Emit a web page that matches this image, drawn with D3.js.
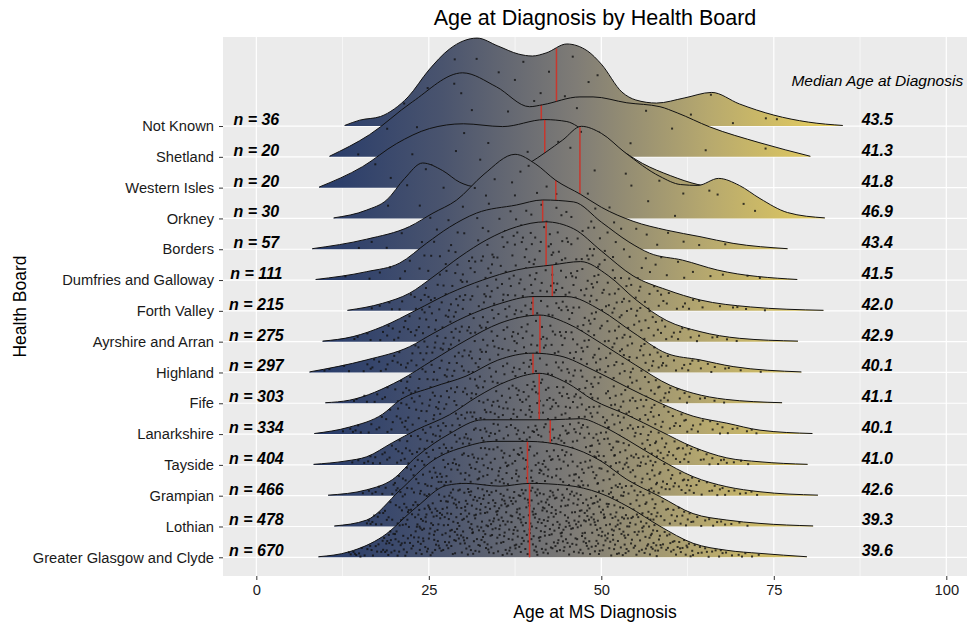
<!DOCTYPE html>
<html>
<head>
<meta charset="utf-8">
<script src="https://cdn.jsdelivr.net/npm/d3@7"></script>
<style>
    body { margin: 0; background: #fff; }
    text { font-family: "Liberation Sans", Arial, sans-serif; }
</style>
</head>
<body>
<div id="chart"></div>
<script>
// Health boards, bottom row first
const boards = ["Greater Glasgow and Clyde", "Lothian", "Grampian", "Tayside", "Lanarkshire", "Fife",
    "Highland", "Ayrshire and Arran", "Forth Valley", "Dumfries and Galloway", "Borders", "Orkney",
    "Western Isles", "Shetland", "Not Known"];
const counts = [670, 478, 466, 404, 334, 303, 297, 275, 215, 111, 57, 30, 20, 20, 36];
const medians = [39.6, 39.3, 42.6, 41.0, 40.1, 41.1, 40.1, 42.9, 42.0, 41.5, 43.4, 46.9, 41.8, 41.3, 43.5];

// density estimate of age at diagnosis (% per year), read from the ridges
const densityAges = [
    [9, 13.5, 18.3, 23.2, 27.6, 30.4, 35.3, 39.6, 45, 49.8, 54, 58.5, 63.3, 68.2, 73, 79.8],
    [11.3, 16, 20.8, 25.6, 30.4, 34.3, 39.3, 45, 49.8, 53.7, 58.5, 63.3, 68.2, 73, 80.7],
    [10.4, 16, 19.7, 23.2, 28, 32.8, 37.5, 42.6, 47, 50, 54, 58.5, 63.3, 68.2, 73, 81.4],
    [8.3, 13, 16, 19.7, 23.2, 28, 32, 36.5, 41, 45, 48.8, 53.7, 58.5, 63.3, 68.2, 73, 79.9],
    [8.4, 13.5, 18.3, 20.8, 25.6, 30.4, 35, 40.1, 44, 48.8, 53.7, 58.5, 63.3, 68.2, 73, 80.6],
    [10, 13.5, 20.8, 25.6, 30.4, 35.3, 41.1, 45, 50, 55, 60, 63.3, 68, 76.2],
    [7.7, 16, 22.2, 25.6, 30.4, 35.3, 40.1, 45, 50, 54.6, 59.5, 64.3, 69.1, 79],
    [9.6, 14, 18.3, 23.2, 28, 32.8, 37.7, 42.9, 47, 51, 55, 59.5, 64.3, 70, 78.5],
    [13.2, 18.3, 22.2, 25.6, 29.5, 33.4, 37.7, 41.9, 46, 50, 54.6, 59.5, 64.3, 71.6, 82.2],
    [8.6, 16, 20.8, 24.7, 28, 31.9, 37.7, 41.5, 46, 50, 54, 57, 61.8, 66.8, 78.4],
    [8.1, 16, 22.2, 25.6, 29, 33, 37.5, 40.5, 43.4, 47, 50, 54.6, 59.5, 64.3, 69.1, 77],
    [11.2, 16, 18.9, 21.5, 24.1, 27, 29.5, 31.9, 35, 39.6, 44.4, 47.1, 50, 53.4, 58.5, 61.5, 64, 67, 70, 73, 77, 82.4],
    [9.1, 15.4, 20.3, 25.1, 30, 35.7, 41.8, 45, 48, 52.7, 56, 60, 64, 66],
    [10.6, 16.4, 22.6, 29.9, 34.8, 39.6, 41.5, 46.9, 48.8, 53.7, 58.5, 61, 65.7, 73, 80.3],
    [12.8, 15, 18, 20, 22, 25, 28, 30, 32, 35, 38, 40, 42, 45, 48, 50, 53, 55, 58, 62, 66, 70, 75, 80, 85]
];
const densityPct = [
    [0.02, 0.20, 0.74, 1.79, 2.57, 2.64, 2.54, 2.64, 2.57, 2.29, 1.79, 1.11, 0.50, 0.25, 0.14, 0.02],
    [0.02, 0.23, 1.29, 2.36, 2.86, 3.04, 3.04, 2.86, 2.36, 1.68, 1.07, 0.46, 0.23, 0.11, 0.02],
    [0.02, 0.21, 0.57, 1.39, 2.21, 2.71, 2.71, 2.71, 2.75, 2.50, 1.96, 1.29, 0.68, 0.32, 0.14, 0.02],
    [0.02, 0.14, 0.29, 0.79, 1.25, 1.79, 2.43, 3.00, 3.27, 2.93, 2.32, 1.79, 1.21, 0.64, 0.25, 0.11, 0.02],
    [0.02, 0.25, 0.71, 1.21, 1.68, 2.07, 2.64, 2.89, 2.79, 2.29, 1.68, 1.11, 0.64, 0.39, 0.14, 0.02],
    [0.02, 0.11, 0.82, 1.54, 2.25, 2.86, 3.15, 2.86, 2.14, 1.36, 0.64, 0.36, 0.14, 0.02],
    [0.02, 0.45, 0.92, 1.39, 2.00, 2.46, 2.71, 2.71, 2.21, 1.43, 0.68, 0.45, 0.21, 0.02],
    [0.02, 0.18, 0.54, 1.13, 1.73, 2.20, 2.56, 2.74, 2.86, 2.36, 1.50, 0.75, 0.36, 0.12, 0.02],
    [0.02, 0.27, 0.63, 1.21, 1.93, 2.54, 3.00, 3.18, 2.93, 2.14, 1.25, 0.75, 0.39, 0.14, 0.02],
    [0.02, 0.30, 0.61, 1.32, 1.89, 2.39, 2.68, 2.86, 2.79, 2.07, 1.36, 0.96, 0.71, 0.36, 0.02],
    [0.02, 0.36, 0.81, 1.29, 1.75, 2.68, 3.39, 3.04, 2.46, 1.96, 1.50, 1.00, 0.68, 0.45, 0.21, 0.02],
    [0.02, 0.30, 0.66, 1.43, 1.98, 1.71, 1.29, 1.13, 1.36, 1.98, 2.80, 3.29, 3.04, 2.36, 1.50, 1.21, 1.18, 1.43, 1.18, 0.71, 0.21, 0.02],
    [0.02, 0.75, 1.57, 2.11, 2.28, 2.18, 2.43, 2.36, 1.96, 1.36, 0.86, 0.43, 0.11, 0.02],
    [0.02, 0.79, 1.96, 3.00, 2.50, 1.79, 1.86, 2.14, 2.14, 1.93, 1.79, 1.57, 1.07, 0.50, 0.02],
    [0.02, 0.21, 0.34, 0.61, 1.04, 2.00, 2.75, 3.04, 3.14, 2.86, 2.57, 2.50, 2.61, 2.93, 2.68, 2.21, 1.21, 0.93, 0.82, 1.00, 1.20, 0.79, 0.39, 0.14, 0.02]
];
const xTicks = [0, 25, 50, 75, 100];
const xMinor = [12.5, 37.5, 62.5, 87.5];

const width = 976, height = 623;
const panel = { left: 223, right: 967, top: 37, bottom: 576 };
const ridgeScale = 0.909; // rows per % density

const svg = d3.select("#chart").append("svg")
    .attr("width", width)
    .attr("height", height);

const x = d3.scaleLinear().domain([-4.83, 103]).range([panel.left, panel.right]);
const y = d3.scaleLinear().domain([-0.607, 16.89]).range([panel.bottom, panel.top]);

// panel background + grid
svg.append("rect")
    .attr("x", panel.left).attr("y", panel.top)
    .attr("width", panel.right - panel.left).attr("height", panel.bottom - panel.top)
    .attr("fill", "#ebebeb");

svg.append("g").selectAll("line").data(xMinor).join("line")
    .attr("x1", d => x(d)).attr("x2", d => x(d))
    .attr("y1", panel.top).attr("y2", panel.bottom)
    .attr("stroke", "#fff").attr("stroke-width", 0.6);
svg.append("g").selectAll("line").data(xTicks).join("line")
    .attr("x1", d => x(d)).attr("x2", d => x(d))
    .attr("y1", panel.top).attr("y2", panel.bottom)
    .attr("stroke", "#fff").attr("stroke-width", 1.2);
svg.append("g").selectAll("line").data(boards).join("line")
    .attr("x1", panel.left).attr("x2", panel.right)
    .attr("y1", (d, i) => y(i)).attr("y2", (d, i) => y(i))
    .attr("stroke", "#fff").attr("stroke-width", 1.2);

// fill gradient along age
const allAges = densityAges.flat();
const grad = svg.append("defs").append("linearGradient")
    .attr("id", "ageFill")
    .attr("gradientUnits", "userSpaceOnUse")
    .attr("x1", x(d3.min(allAges))).attr("x2", x(d3.max(allAges)))
    .attr("y1", 0).attr("y2", 0);
[[0, "#24396a"], [0.25, "#4a546e"], [0.5, "#7f7c76"], [0.75, "#b7a96e"], [1, "#ead15c"]].forEach(s => {
    grad.append("stop").attr("offset", s[0]).attr("stop-color", s[1]);
});

function heightAt(i, age) {
    const a = densityAges[i], p = densityPct[i];
    if (age <= a[0] || age >= a[a.length - 1]) return 0;
    const j = d3.bisectRight(a, age) - 1;
    const t = (age - a[j]) / (a[j + 1] - a[j]);
    return p[j] + t * (p[j + 1] - p[j]);
}

function quantile(i, q) {
    const a = densityAges[i], p = densityPct[i];
    const cum = [0];
    for (let j = 1; j < a.length; j++) cum.push(cum[j - 1] + (p[j] + p[j - 1]) / 2 * (a[j] - a[j - 1]));
    const target = q * cum[cum.length - 1];
    let j = d3.bisectRight(cum, target) - 1;
    j = Math.min(j, a.length - 2);
    const t = (target - cum[j]) / (cum[j + 1] - cum[j]);
    return a[j] + t * (a[j + 1] - a[j]);
}

// low-discrepancy sequence for spreading the dots
function halton(k, base) {
    let f = 1, r = 0;
    while (k > 0) {
        f /= base;
        r += f * (k % base);
        k = Math.floor(k / base);
    }
    return r;
}

const ridges = svg.append("g");

// draw from the top row down so lower ridges sit in front
for (let i = boards.length - 1; i >= 0; i--) {
    const pts = densityAges[i].map((a, k) => [a, densityPct[i][k]]);
    const g = ridges.append("g");

    const area = d3.area()
        .curve(d3.curveMonotoneX)
        .x(d => x(d[0]))
        .y0(y(i))
        .y1(d => y(i + d[1] * ridgeScale));
    const line = d3.line()
        .curve(d3.curveMonotoneX)
        .x(d => x(d[0]))
        .y(d => y(i + d[1] * ridgeScale));

    g.append("path").attr("d", area(pts)).attr("fill", "url(#ageFill)");

    // observations spread inside the ridge
    const off = 7 + i * 13;
    const dots = d3.range(counts[i]).map(k => {
        const u = halton(k + off, 2);
        const v = halton(k + off, 3);
        const age = quantile(i, 0.004 + u * 0.992);
        const h = heightAt(i, age) * ridgeScale;
        return [x(age), y(i + (0.03 + 0.92 * v) * h)];
    });
    g.selectAll("rect").data(dots).join("rect")
        .attr("x", d => d[0] - 1).attr("y", d => d[1] - 1)
        .attr("width", 2).attr("height", 2)
        .attr("fill", "#111")
        .attr("fill-opacity", 0.8);

    g.append("line")
        .attr("x1", x(medians[i])).attr("x2", x(medians[i]))
        .attr("y1", y(i)).attr("y2", y(i + heightAt(i, medians[i]) * ridgeScale))
        .attr("stroke", "#c8372d").attr("stroke-width", 1.5);

    g.append("path").attr("d", line(pts))
        .attr("fill", "none").attr("stroke", "#111").attr("stroke-width", 1);
}

// n labels and median labels
svg.append("g").selectAll("text").data(counts).join("text")
    .attr("x", x(0)).attr("y", (d, i) => y(i) - 1)
    .attr("text-anchor", "middle")
    .style("font-size", "16px").style("font-weight", "bold").style("font-style", "italic")
    .text(d => "n = " + d);
svg.append("g").selectAll("text").data(medians).join("text")
    .attr("x", x(90)).attr("y", (d, i) => y(i) - 1)
    .attr("text-anchor", "middle")
    .style("font-size", "16px").style("font-weight", "bold").style("font-style", "italic")
    .text(d => d.toFixed(1));
svg.append("text")
    .attr("x", x(90)).attr("y", y(boards.length - 1 + 1.3))
    .attr("text-anchor", "middle")
    .style("font-size", "15.5px").style("font-style", "italic")
    .text("Median Age at Diagnosis");

// axes
const xAxis = svg.append("g")
    .attr("transform", "translate(0," + panel.bottom + ")")
    .call(d3.axisBottom(x).tickValues(xTicks).tickSize(4).tickPadding(5));
const yAxis = svg.append("g")
    .attr("transform", "translate(" + panel.left + ",0)")
    .call(d3.axisLeft(y).tickValues(d3.range(boards.length)).tickFormat(i => boards[i]).tickSize(4).tickPadding(5));
[xAxis, yAxis].forEach(ax => {
    ax.select(".domain").remove();
    ax.selectAll(".tick line").attr("stroke", "#333");
    ax.selectAll(".tick text").attr("fill", "#1a1a1a").style("font-size", "14.7px")
        .style("font-family", "'Liberation Sans', Arial, sans-serif");
});

svg.append("text")
    .attr("x", (panel.left + panel.right) / 2).attr("y", 25)
    .attr("text-anchor", "middle")
    .style("font-size", "21.5px")
    .text("Age at Diagnosis by Health Board");
svg.append("text")
    .attr("x", (panel.left + panel.right) / 2).attr("y", 618)
    .attr("text-anchor", "middle")
    .style("font-size", "17.5px")
    .text("Age at MS Diagnosis");
svg.append("text")
    .attr("transform", "translate(26," + (panel.top + panel.bottom) / 2 + ") rotate(-90)")
    .attr("text-anchor", "middle")
    .style("font-size", "17.5px")
    .text("Health Board");
</script>
</body>
</html>
